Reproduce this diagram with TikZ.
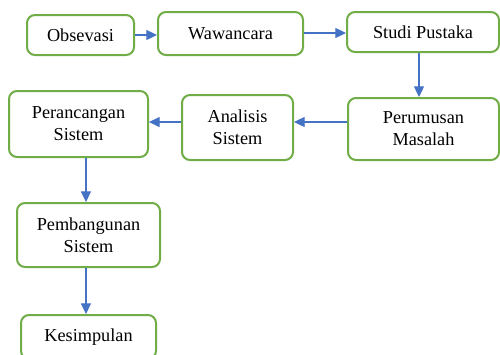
\documentclass[tikz,border=0pt]{standalone}
\usepackage{fontspec}
\setmainfont{Liberation Serif}
\usetikzlibrary{arrows.meta}
\definecolor{boxgreen}{HTML}{70AD47}
\definecolor{arrblue}{HTML}{4472C4}
\tikzset{
  stepbox/.style={draw=boxgreen, line width=1.5pt, rounded corners=6pt, fill=white,
    align=center, inner sep=0pt, font=\fontsize{13.7pt}{16.5pt}\selectfont},
  flow/.style={draw=arrblue, line width=0.9pt, -{Triangle[length=8pt,width=7.5pt]}}
}
\begin{document}
\begin{tikzpicture}[x=0.75pt,y=-0.75pt]
\useasboundingbox (0,0) rectangle (500,354);
\node[stepbox, minimum width=107*0.75pt, minimum height=40*0.75pt] (obs) at (80.5,35) {Obsevasi};
\node[stepbox, minimum width=145*0.75pt, minimum height=43*0.75pt] (waw) at (230.5,33.5) {Wawancara};
\node[stepbox, minimum width=152*0.75pt, minimum height=40*0.75pt] (studi) at (423,32) {Studi Pustaka};
\node[stepbox, minimum width=151*0.75pt, minimum height=62*0.75pt] (perum) at (423.5,129) {Perumusan\\Masalah};
\node[stepbox, minimum width=111*0.75pt, minimum height=65*0.75pt] (anal) at (237.5,127.5) {Analisis\\Sistem};
\node[stepbox, minimum width=139*0.75pt, minimum height=66*0.75pt] (peran) at (78.5,124) {Perancangan\\Sistem};
\node[stepbox, minimum width=143*0.75pt, minimum height=64*0.75pt] (pemb) at (88.5,235) {Pembangunan\\Sistem};
\node[stepbox, minimum width=135*0.75pt, minimum height=44*0.75pt] (kes) at (88.5,337) {Kesimpulan};
\coordinate (w1) at ([yshift=0.375pt]waw.east);
\coordinate (s1) at ([xshift=-3pt]studi.south);
\coordinate (p1) at ([yshift=5.25pt]perum.west);
\coordinate (a1) at ([yshift=4.1pt]anal.west);
\coordinate (r1) at ([xshift=5.6pt]peran.south);
\coordinate (b1) at ([xshift=-1.9pt]pemb.south);
\draw[flow] (obs.east) -- (obs.east -| waw.west);
\draw[flow] (w1) -- (w1 -| studi.west);
\draw[flow] (s1) -- (s1 |- perum.north);
\draw[flow] (p1) -- (p1 -| anal.east);
\draw[flow] (a1) -- (a1 -| peran.east);
\draw[flow] (r1) -- (r1 |- pemb.north);
\draw[flow] (b1) -- (b1 |- kes.north);
\end{tikzpicture}
\end{document}
